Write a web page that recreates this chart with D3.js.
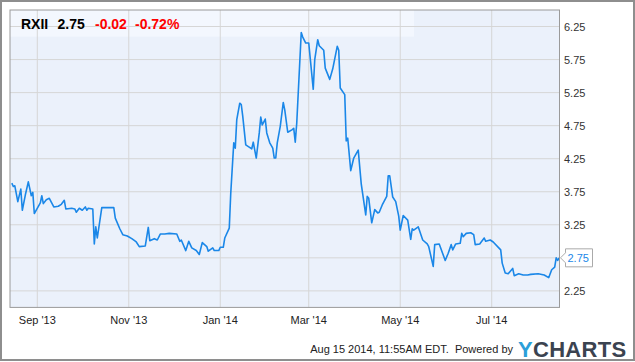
<!DOCTYPE html>
<html><head><meta charset="utf-8">
<script src="https://cdn.jsdelivr.net/npm/d3@7"></script>
<style>body{margin:0;background:#fff}svg{display:block}text{font-family:"Liberation Sans",Arial,sans-serif}</style>
</head><body><svg id="c" width="635" height="362"></svg>
<script>
const dates = ["2013-08-15","2013-08-16","2013-08-17","2013-08-19","2013-08-21","2013-08-22","2013-08-24","2013-08-26","2013-08-28","2013-08-29","2013-08-30",
"2013-09-03","2013-09-04","2013-09-05","2013-09-07","2013-09-09","2013-09-12","2013-09-15","2013-09-17","2013-09-19","2013-09-20","2013-09-24","2013-09-26","2013-09-27","2013-09-29",
"2013-10-01","2013-10-03","2013-10-04","2013-10-05","2013-10-08","2013-10-09","2013-10-10","2013-10-11","2013-10-14","2013-10-22","2013-10-23","2013-10-26","2013-10-28","2013-10-31",
"2013-11-03","2013-11-06","2013-11-08","2013-11-12","2013-11-14","2013-11-15","2013-11-18","2013-11-20","2013-11-22","2013-11-25","2013-11-28",
"2013-12-03","2013-12-05","2013-12-06","2013-12-09","2013-12-11","2013-12-13","2013-12-16","2013-12-18","2013-12-20","2013-12-23","2013-12-24","2013-12-27","2013-12-28","2013-12-31",
"2014-01-01","2014-01-03","2014-01-04","2014-01-07","2014-01-08","2014-01-10","2014-01-11","2014-01-12","2014-01-14","2014-01-15","2014-01-16","2014-01-18","2014-01-20","2014-01-22","2014-01-23","2014-01-25","2014-01-27","2014-01-28","2014-01-29","2014-01-31",
"2014-02-01","2014-02-03","2014-02-05","2014-02-06","2014-02-07","2014-02-08","2014-02-10","2014-02-12","2014-02-13","2014-02-15","2014-02-18","2014-02-19","2014-02-20","2014-02-21","2014-02-24","2014-02-25","2014-02-27",
"2014-03-01","2014-03-04","2014-03-05","2014-03-07","2014-03-08","2014-03-11","2014-03-12","2014-03-15","2014-03-17","2014-03-20","2014-03-21","2014-03-22","2014-03-25","2014-03-26","2014-03-27","2014-03-29","2014-03-31",
"2014-04-03","2014-04-05","2014-04-08","2014-04-09","2014-04-10","2014-04-12","2014-04-14","2014-04-16","2014-04-17","2014-04-19","2014-04-22","2014-04-23","2014-04-24","2014-04-26","2014-04-28","2014-04-30",
"2014-05-01","2014-05-03","2014-05-06","2014-05-08","2014-05-09","2014-05-10","2014-05-13","2014-05-16","2014-05-19","2014-05-20","2014-05-23","2014-05-24","2014-05-27","2014-05-31",
"2014-06-02","2014-06-04","2014-06-05","2014-06-07","2014-06-10","2014-06-11","2014-06-12","2014-06-14","2014-06-17","2014-06-19","2014-06-20","2014-06-23","2014-06-26","2014-06-27","2014-06-30",
"2014-07-02","2014-07-07","2014-07-08","2014-07-10","2014-07-12","2014-07-15","2014-07-16","2014-07-19","2014-07-22","2014-07-25","2014-07-27",
"2014-08-01","2014-08-05","2014-08-08","2014-08-10","2014-08-12","2014-08-13","2014-08-14","2014-08-15"];
const prices = [3.88,3.83,3.84,3.60,3.79,3.47,3.70,3.90,3.69,3.74,3.42,
3.58,3.69,3.57,3.63,3.65,3.52,3.53,3.56,3.62,3.49,3.50,3.49,3.44,3.50,
3.47,3.52,3.47,3.50,3.49,2.96,3.22,3.05,3.51,3.51,3.35,3.19,3.10,3.08,
3.04,2.99,2.92,2.93,3.21,3.01,3.04,3.02,3.11,3.11,3.12,
3.11,3.00,3.02,2.86,3.00,2.90,2.86,2.80,2.98,2.92,2.85,2.90,2.86,2.86,
2.91,2.91,3.05,3.20,3.73,4.49,4.41,4.84,5.09,5.07,4.89,4.46,4.43,4.40,4.50,4.26,4.64,4.88,4.76,4.85,
4.64,4.49,4.41,4.26,4.26,4.49,4.74,5.10,4.99,4.65,4.69,4.71,4.50,4.79,6.16,6.09,6.00,
6.00,5.30,5.75,6.05,5.96,5.89,5.62,5.45,5.61,5.95,5.89,5.32,5.22,4.52,4.56,4.07,4.26,
4.38,3.87,3.40,3.68,3.65,3.28,3.48,3.43,3.44,3.55,3.68,3.99,3.99,3.67,3.60,3.38,
3.17,3.39,3.32,3.03,3.19,3.17,3.22,3.02,2.96,2.92,2.62,2.95,2.96,2.71,
2.82,2.95,2.87,2.96,2.97,3.12,3.07,3.12,3.13,3.10,2.95,2.96,3.05,3.00,3.02,
2.99,2.87,2.67,2.52,2.51,2.59,2.48,2.51,2.49,2.49,2.50,
2.51,2.49,2.45,2.57,2.61,2.75,2.71,2.75];
const yTicks = [2.25,2.75,3.25,3.75,4.25,4.75,5.25,5.75,6.25];
const xTickDates = ["2013-09-01","2013-11-01","2014-01-01","2014-03-01","2014-05-01","2014-07-01"];
const xTickLabels = ["Sep '13","Nov '13","Jan '14","Mar '14","May '14","Jul '14"];
const ticker = "RXII", lastPrice = "2.75", change = "-0.02", changePct = "-0.72%";
const footer = "Aug 15 2014, 11:55AM EDT.  Powered by";

const parse = d3.timeParse("%Y-%m-%d");
const data = dates.map((d,i)=>({date:parse(d), v:prices[i]}));
const svg = d3.select("#c");
const L=10, T=10, R=559.5, B=307.4;
const x = d3.scaleTime().domain([new Date(2013,7,13,19), new Date(2014,7,15,5)]).range([L,R]);
const y = d3.scaleLinear().domain([2.0,6.5]).range([B,T]);

svg.append("rect").attr("x",1).attr("y",1).attr("width",633).attr("height",359)
  .attr("fill","#fff").attr("stroke","#8e8e8e").attr("stroke-width",2);
svg.append("rect").attr("x",L).attr("y",T).attr("width",R-L).attr("height",B-T).attr("fill","#ebf1fb");
svg.append("rect").attr("x",L).attr("y",T).attr("width",404).attr("height",26.7).attr("fill","#f3f7fe");

const g = svg.append("g");
g.selectAll("line.h").data(yTicks).join("line")
  .attr("x1",L).attr("x2",R).attr("y1",d=>y(d)).attr("y2",d=>y(d))
  .attr("stroke","#d6d6d6").attr("stroke-width",1);
g.selectAll("line.v").data(xTickDates).join("line")
  .attr("y1",T).attr("y2",B).attr("x1",d=>x(parse(d))).attr("x2",d=>x(parse(d)))
  .attr("stroke","#d6d6d6").attr("stroke-width",1);

svg.append("path").datum(data)
  .attr("d", d3.line().x(d=>x(d.date)).y(d=>y(d.v)))
  .attr("fill","none").attr("stroke","#1a87e8").attr("stroke-width",1.6).attr("stroke-linejoin","round");

svg.append("rect").attr("x",L).attr("y",T).attr("width",R-L).attr("height",B-T)
  .attr("fill","none").attr("stroke","#9a9a9a").attr("stroke-width",1);

// y axis labels (the one hidden behind the last-value box is skipped)
const lastV = prices[prices.length-1];
const ly = y(lastV);
svg.selectAll("text.yt").data(yTicks.filter(d=>Math.abs(y(d)-ly)>12)).join("text")
  .attr("x",564).attr("y",d=>y(d)+4).attr("font-size",11).attr("fill","#333")
  .text(d=>d.toFixed(2));
// x axis labels
svg.selectAll("text.xt").data(xTickDates).join("text")
  .attr("x",d=>x(parse(d))).attr("y",324).attr("text-anchor","middle").attr("font-size",11).attr("fill","#222")
  .text((d,i)=>xTickLabels[i]);

// last value label
svg.append("path").attr("d",`M${R+1},${ly} L${R+6},${ly-5} L${R+6},${ly-9} L${R+33},${ly-9} L${R+33},${ly+9} L${R+6},${ly+9} L${R+6},${ly+5} Z`)
  .attr("fill","#fff").attr("stroke","#aaa").attr("stroke-width",1);
svg.append("text").attr("x",R+8).attr("y",ly+4).attr("font-size",11).attr("fill","#1a87e8").text(lastPrice);

// header
const h = svg.append("text").attr("y",28.5).attr("font-size",14).attr("font-weight","bold");
h.append("tspan").attr("x",21).attr("fill","#000").text(ticker);
h.append("tspan").attr("x",57.5).attr("fill","#000").text(lastPrice);
h.append("tspan").attr("x",95).attr("fill","#f00").text(change);
h.append("tspan").attr("x",135).attr("fill","#f00").text(changePct);

// footer
svg.append("text").attr("x",513).attr("y",353).attr("text-anchor","end").attr("font-size",11).attr("fill","#222")
  .attr("xml:space","preserve").text(footer);
const logo = svg.append("text").attr("x",518).attr("y",357).attr("font-size",22).attr("font-weight","bold").attr("letter-spacing",0.3);
logo.append("tspan").attr("fill","#2b9fd9").text("Y");
logo.append("tspan").attr("fill","#3b4350").text("CHARTS");
</script></body></html>
